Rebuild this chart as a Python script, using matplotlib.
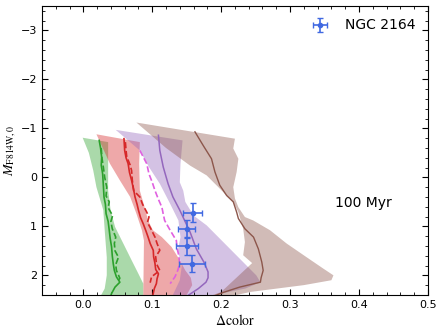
import matplotlib
matplotlib.use("Agg")
import matplotlib.pyplot as plt
from matplotlib.ticker import AutoMinorLocator, MultipleLocator

plt.rcParams['mathtext.fontset'] = 'stix'
plt.rcParams['font.family'] = ['DejaVu Sans']

# ---- shaded bands: (magnitude, colour) for left and right edges ----
green_left_y = [-0.81, -0.50, -0.14, 0.20, 0.67, 1.08, 1.63, 2.00, 2.27, 2.40, 2.60]
green_left_x = [-0.001, 0.008, 0.0144, 0.019, 0.029, 0.031, 0.034, 0.034, 0.031, 0.026, 0.020]
green_right_y = [-0.72, -0.30, 0.27, 0.67, 1.01, 1.35, 1.69, 1.97, 2.17, 2.40, 2.60]
green_right_x = [0.036, 0.036, 0.036, 0.0396, 0.046, 0.058, 0.070, 0.080, 0.087, 0.087, 0.087]

red_left_y = [-0.88, -0.28, 0.06, 0.40, 0.74, 1.08, 1.29, 2.40, 2.60]
red_left_x = [0.019, 0.0386, 0.053, 0.068, 0.077, 0.085, 0.088, 0.087, 0.087]
red_right_y = [-0.72, -0.28, 0.27, 0.61, 0.88, 1.08, 1.22, 1.42, 1.69, 1.90, 2.05, 2.20, 2.40, 2.60]
red_right_x = [0.082, 0.081, 0.082, 0.089, 0.094, 0.101, 0.114, 0.128, 0.140, 0.148, 0.156, 0.158, 0.150, 0.140]

purple_left_y = [-0.97, -0.55, -0.21, 0.13, 0.54, 0.88, 1.22, 1.50, 1.80, 2.10, 2.40, 2.60]
purple_left_x = [0.047, 0.082, 0.0953, 0.111, 0.126, 0.138, 0.141, 0.137, 0.143, 0.140, 0.130, 0.120]
purple_right_y = [-0.755, -0.28, 0.10, 0.27, 0.50, 0.78, 0.98, 1.32, 1.66, 2.00, 2.14, 2.27, 2.40, 2.60]
purple_right_x = [0.144, 0.141, 0.140, 0.145, 0.148, 0.160, 0.179, 0.203, 0.227, 0.251, 0.257, 0.235, 0.190, 0.150]

brown_left_y = [-1.12, -0.60, -0.24, -0.04, 0.30, 0.50, 0.71, 1.05, 1.32, 1.59, 1.75, 2.34, 2.60]
brown_left_x = [0.077, 0.120, 0.155, 0.179, 0.203, 0.2176, 0.225, 0.232, 0.2345, 0.232, 0.245, 0.200, 0.150]
brown_right_y = [-0.79, -0.59, -0.38, -0.11, 0.20, 0.43, 0.61, 0.81, 0.88, 1.08, 1.35, 1.63, 1.86, 2.00, 2.10, 2.20, 2.34, 2.60]
brown_right_x = [0.220, 0.2176, 0.225, 0.2225, 0.2176, 0.220, 0.225, 0.2345, 0.2466, 0.271, 0.295, 0.324, 0.348, 0.363, 0.360, 0.320, 0.242, 0.160]

# ---- median lines ----
green_solid_y = [-0.755, -0.60, -0.41, -0.25, -0.075, 0.15, 0.40, 0.55, 0.74, 0.90, 1.08, 1.25, 1.42, 1.60, 1.76, 1.90, 2.03, 2.14, 2.24, 2.37, 2.45]
green_solid_x = [0.023, 0.025, 0.0266, 0.026, 0.028, 0.029, 0.030, 0.032, 0.033, 0.036, 0.0376, 0.039, 0.041, 0.042, 0.0434, 0.045, 0.048, 0.053, 0.046, 0.041, 0.039]
green_dash_y = [-0.60, -0.40, -0.21, 0.0, 0.20, 0.38, 0.50, 0.62, 0.78, 0.90, 1.05, 1.22, 1.35, 1.50, 1.63, 1.78, 1.90, 2.06, 2.14]
green_dash_x = [0.026, 0.027, 0.029, 0.031, 0.034, 0.033, 0.0376, 0.036, 0.0425, 0.040, 0.042, 0.047, 0.045, 0.046, 0.051, 0.047, 0.048, 0.053, 0.049]

red_solid_y = [-0.79, -0.55, -0.40, -0.28, -0.10, 0.06, 0.25, 0.40, 0.55, 0.67, 0.82, 0.95, 1.10, 1.22, 1.35, 1.49, 1.62, 1.76, 1.88, 1.97, 2.07, 2.17, 2.27, 2.37, 2.45]
red_solid_x = [0.059, 0.060, 0.062, 0.065, 0.067, 0.070, 0.073, 0.075, 0.078, 0.080, 0.083, 0.087, 0.091, 0.094, 0.097, 0.1015, 0.102, 0.104, 0.105, 0.109, 0.107, 0.106, 0.103, 0.1015, 0.100]
red_dash_y = [-0.72, -0.55, -0.42, -0.25, -0.14, 0.05, 0.27, 0.40, 0.55, 0.71, 0.81, 0.92, 1.05, 1.22, 1.35, 1.49, 1.62, 1.76, 1.90, 2.03, 2.15]
red_dash_x = [0.061, 0.062, 0.063, 0.068, 0.070, 0.071, 0.073, 0.082, 0.086, 0.092, 0.0953, 0.093, 0.098, 0.104, 0.107, 0.111, 0.105, 0.106, 0.111, 0.099, 0.097]

magenta_dash_y = [-0.55, -0.28, -0.07, 0.10, 0.27, 0.45, 0.61, 0.75, 0.88, 1.08, 1.29, 1.45, 1.56, 1.76, 1.90, 2.03, 2.17]
magenta_dash_x = [0.082, 0.092, 0.0953, 0.100, 0.104, 0.109, 0.114, 0.116, 0.118, 0.126, 0.135, 0.136, 0.138, 0.140, 0.137, 0.133, 0.126]

purple_solid_y = [-0.86, -0.55, -0.21, 0.13, 0.40, 0.67, 0.88, 1.12, 1.46, 1.73, 1.93, 2.05, 2.14, 2.27, 2.41]
purple_solid_x = [0.109, 0.111, 0.116, 0.123, 0.130, 0.140, 0.147, 0.155, 0.164, 0.175, 0.181, 0.181, 0.178, 0.167, 0.152]

brown_solid_y = [-0.93, -0.65, -0.38, -0.11, 0.16, 0.37, 0.50, 0.71, 0.84, 1.05, 1.22, 1.46, 1.73, 1.90, 2.05, 2.14, 2.24, 2.34, 2.42]
brown_solid_x = [0.162, 0.174, 0.186, 0.191, 0.198, 0.208, 0.2176, 0.2225, 0.225, 0.2345, 0.247, 0.254, 0.259, 0.261, 0.258, 0.257, 0.227, 0.205, 0.190]

# ---- NGC 2164 data points ----
ngc_x = [0.1586, 0.150, 0.151, 0.158]
ngc_y = [0.72, 1.05, 1.41, 1.76]
ngc_xerr = [0.0134, 0.012, 0.016, 0.019]
ngc_yerr = [0.19, 0.17, 0.17, 0.17]

c_green = '#2ca02c'
c_red = '#d62728'
c_purple = '#9467bd'
c_brown = '#8c564b'
c_magenta = '#e060e0'
c_blue = '#4169e1'

fig = plt.figure(figsize=(4.43, 3.31), dpi=100)
ax = fig.add_axes([0.0948, 0.109, 0.871, 0.873])

def band(lx, ly, rx, ry, color):
    xs = list(lx) + list(rx)[::-1]
    ys = list(ly) + list(ry)[::-1]
    ax.fill(xs, ys, color=color, alpha=0.4, lw=0)

band(green_left_x, green_left_y, green_right_x, green_right_y, c_green)
band(red_left_x, red_left_y, red_right_x, red_right_y, c_red)
band(purple_left_x, purple_left_y, purple_right_x, purple_right_y, c_purple)
band(brown_left_x, brown_left_y, brown_right_x, brown_right_y, c_brown)

ax.plot(green_solid_x, green_solid_y, color=c_green, lw=1.2)
ax.plot(green_dash_x, green_dash_y, color=c_green, lw=1.2, ls='--')
ax.plot(red_solid_x, red_solid_y, color=c_red, lw=1.2)
ax.plot(red_dash_x, red_dash_y, color=c_red, lw=1.2, ls='--')
ax.plot(magenta_dash_x, magenta_dash_y, color=c_magenta, lw=1.2, ls='--')
ax.plot(purple_solid_x, purple_solid_y, color=c_purple, lw=1.1)
ax.plot(brown_solid_x, brown_solid_y, color=c_brown, lw=1.0)

ax.errorbar(ngc_x, ngc_y, xerr=ngc_xerr, yerr=ngc_yerr, fmt='o', ms=3,
            color=c_blue, ecolor=c_blue, elinewidth=1.2, capsize=2, label='NGC 2164')

ax.text(0.406, 0.53, '100 Myr', fontsize=10, ha='center', va='center')

ax.set_xlim(-0.06, 0.5)
ax.set_ylim(2.4, -3.5)
ax.xaxis.set_major_locator(MultipleLocator(0.1))
ax.yaxis.set_major_locator(MultipleLocator(1))
ax.xaxis.set_minor_locator(AutoMinorLocator(5))
ax.yaxis.set_minor_locator(AutoMinorLocator(5))
ax.tick_params(which='both', direction='in', top=True, right=True, labelsize=8)
ax.tick_params(which='major', length=4)
ax.tick_params(which='minor', length=2)

ax.set_xlabel(r'$\Delta\mathrm{color}$', fontsize=10, labelpad=2)
ax.set_ylabel(r'$M_{\mathrm{F814W},0}$', fontsize=10, labelpad=2)

leg = ax.legend(loc='upper right', frameon=False, fontsize=10)

fig.savefig('out.png', dpi=100)
